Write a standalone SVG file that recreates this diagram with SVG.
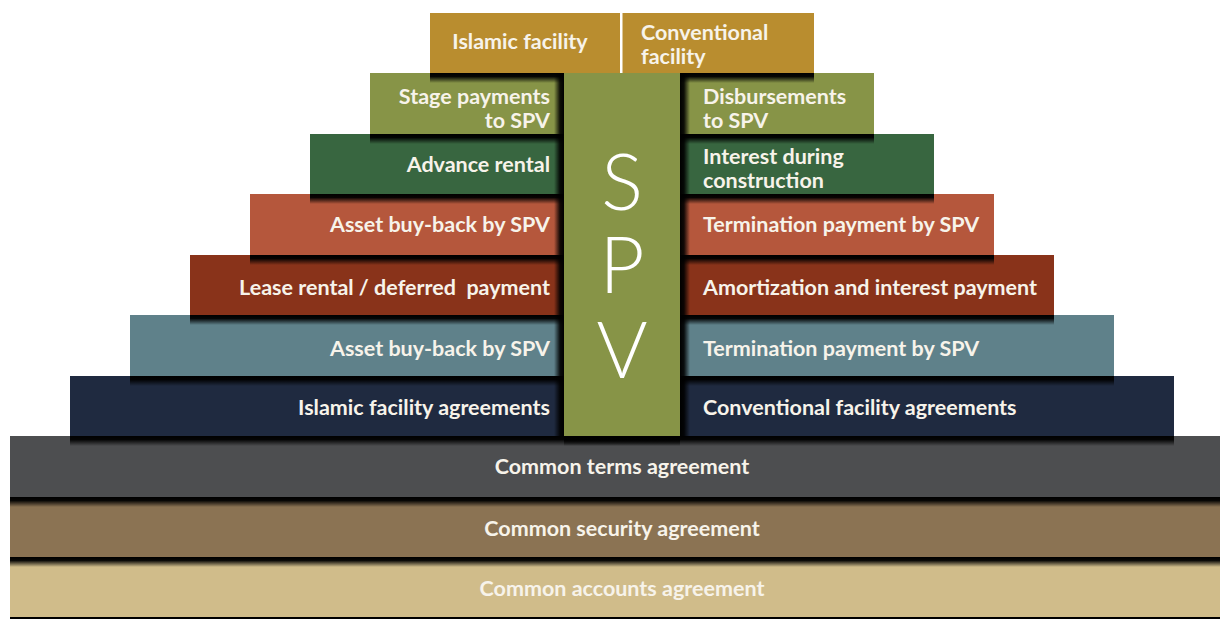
<svg xmlns="http://www.w3.org/2000/svg" width="1220" height="619" viewBox="0 0 1220 619">
<defs>
<linearGradient id="shd" x1="0" y1="0" x2="0" y2="1">
<stop offset="0" stop-color="#000" stop-opacity="1"/>
<stop offset="0.35" stop-color="#000" stop-opacity="0.95"/>
<stop offset="1" stop-color="#000" stop-opacity="0"/>
</linearGradient>
<linearGradient id="shl" x1="1" y1="0" x2="0" y2="0">
<stop offset="0" stop-color="#000" stop-opacity="1"/>
<stop offset="0.4" stop-color="#000" stop-opacity="0.9"/>
<stop offset="1" stop-color="#000" stop-opacity="0"/>
</linearGradient>
<linearGradient id="shr" x1="0" y1="0" x2="1" y2="0">
<stop offset="0" stop-color="#000" stop-opacity="1"/>
<stop offset="0.4" stop-color="#000" stop-opacity="0.9"/>
<stop offset="1" stop-color="#000" stop-opacity="0"/>
</linearGradient>
</defs>
<style>
text{font-family:Lato,"Liberation Sans",sans-serif;font-weight:700;font-size:21.5px;fill:#F7F3EA}
.l{text-anchor:end}
.c{text-anchor:middle}
.spv{font-weight:300;font-size:78px;fill:#fff;text-anchor:middle}
.sh{fill:url(#shd)}
</style>
<rect x="0" y="0" width="1220" height="619" fill="#fff"/>
<rect x="10" y="614" width="1210" height="5" fill="#000"/>
<g id="accounts">
<rect x="10" y="557" width="1210" height="60" fill="#D0BC8A"/>
<text class="c" x="622" y="596">Common accounts agreement</text>
</g>
<g id="security">
<rect x="10" y="497" width="1210" height="60" fill="#8B7353"/>
<rect class="sh" x="10" y="557" width="1210" height="10"/>
<text class="c" x="622" y="536">Common security agreement</text>
</g>
<g id="terms">
<rect x="10" y="436" width="1210" height="61" fill="#4D4E50"/>
<rect class="sh" x="10" y="497" width="1210" height="10"/>
<text class="c" x="622" y="474">Common terms agreement</text>
</g>
<g id="agreements">
<rect x="70" y="376" width="1104" height="60" fill="#1F2A40"/>
<rect class="sh" x="70" y="436" width="1104" height="10"/>
<text class="l" x="550" y="415">Islamic facility agreements</text>
<text x="703" y="415">Conventional facility agreements</text>
</g>
<g id="termination">
<rect x="130" y="315" width="984" height="61" fill="#5F818A"/>
<rect class="sh" x="130" y="376" width="984" height="10"/>
<text class="l" x="550" y="356">Asset buy-back by SPV</text>
<text x="703" y="356">Termination payment by SPV</text>
</g>
<g id="payments">
<rect x="190" y="255" width="864" height="60" fill="#89331A"/>
<rect class="sh" x="190" y="315" width="864" height="10"/>
<text class="l" x="550" y="295" xml:space="preserve">Lease rental / deferred  payment</text>
<text x="703" y="295">Amortization and interest payment</text>
</g>
<g id="buyback">
<rect x="250" y="194" width="744" height="61" fill="#B5573C"/>
<rect class="sh" x="250" y="255" width="744" height="10"/>
<text class="l" x="550" y="232">Asset buy-back by SPV</text>
<text x="703" y="232">Termination payment by SPV</text>
</g>
<g id="construction">
<rect x="310" y="134" width="624" height="60" fill="#386640"/>
<rect class="sh" x="310" y="194" width="624" height="10"/>
<text class="l" x="550" y="172">Advance rental</text>
<text x="703" y="164">Interest during</text>
<text x="703" y="188">construction</text>
</g>
<g id="disbursements">
<rect x="370" y="73" width="504" height="61" fill="#879447"/>
<rect class="sh" x="370" y="134" width="504" height="10"/>
<text class="l" x="550" y="104">Stage payments</text>
<text class="l" x="550" y="128">to SPV</text>
<text x="703" y="104">Disbursements</text>
<text x="703" y="128">to SPV</text>
</g>
<g id="facilities">
<rect x="430" y="13" width="384" height="60" fill="#B98D2F"/>
<rect class="sh" x="430" y="73" width="384" height="10"/>
<rect x="620" y="13" width="2.5" height="60" fill="#fff"/>
<text class="c" x="520" y="49">Islamic facility</text>
<text x="641" y="40">Conventional</text>
<text x="641" y="64">facility</text>
</g>
<g id="spv">
<rect x="554" y="73" width="10" height="363" fill="url(#shl)"/>
<rect x="680" y="73" width="10" height="363" fill="url(#shr)"/>
<rect class="sh" x="564" y="436" width="116" height="10"/>
<rect x="564" y="73" width="116" height="363" fill="#879447"/>
<text class="spv" x="622" y="210">S</text>
<text class="spv" x="622" y="293">P</text>
<text class="spv" x="622" y="378">V</text>
</g>
</svg>
